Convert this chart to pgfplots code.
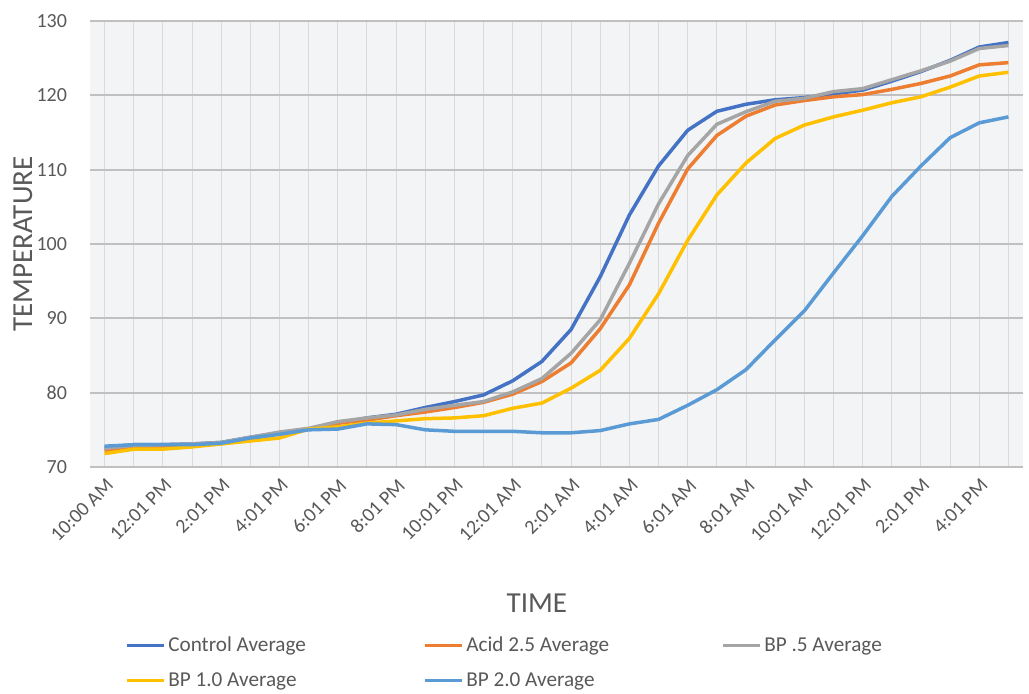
\documentclass[border=0pt]{standalone}
\usepackage{pgfplots}
\pgfplotsset{compat=1.18}
\usepackage{fontspec}
\setmainfont{Carlito}
\definecolor{cCtrl}{HTML}{4472C4}
\definecolor{cAcid}{HTML}{ED7D31}
\definecolor{cBPa}{HTML}{A5A5A5}
\definecolor{cBPb}{HTML}{FFC000}
\definecolor{cBPc}{HTML}{5B9BD5}
\definecolor{txt}{HTML}{595959}
\definecolor{bgc}{HTML}{F3F4F6}
\definecolor{hgrid}{HTML}{C0C0C0}
\definecolor{vgrid}{HTML}{DADADA}
\pgfplotstableread{
i ctrl acid bpa bpb bpc
0 72.6 72.2 72.5 71.8 72.8
1 73.0 72.7 72.9 72.4 73.0
2 73.0 72.8 73.0 72.4 73.0
3 73.1 73.0 73.1 72.7 73.0
4 73.3 73.2 73.3 73.1 73.2
5 74.0 73.8 74.0 73.5 73.9
6 74.6 74.5 74.7 73.9 74.4
7 75.1 75.1 75.2 75.1 75.0
8 75.9 75.9 76.1 75.4 75.1
9 76.6 76.3 76.6 75.9 75.8
10 77.1 76.9 77.0 76.2 75.7
11 78.0 77.4 77.75 76.5 75.0
12 78.8 78.0 78.3 76.6 74.8
13 79.7 78.7 78.8 76.9 74.8
14 81.6 79.8 80.1 77.9 74.8
15 84.2 81.5 81.9 78.6 74.6
16 88.5 84.0 85.3 80.6 74.6
17 95.6 88.6 89.8 83.0 74.9
18 103.9 94.5 97.4 87.3 75.8
19 110.5 102.8 105.4 93.3 76.4
20 115.3 110.1 111.9 100.5 78.3
21 117.85 114.6 116.1 106.6 80.4
22 118.8 117.2 117.8 110.9 83.1
23 119.4 118.7 119.2 114.2 87.1
24 119.7 119.3 119.6 116.0 91.0
25 120.2 119.8 120.5 117.1 96.1
26 120.7 120.1 120.9 118.0 101.1
27 121.9 120.8 122.1 119.0 106.4
28 123.2 121.6 123.3 119.8 110.5
29 124.7 122.6 124.6 121.1 114.3
30 126.5 124.1 126.3 122.6 116.3
31 127.1 124.4 126.7 123.1 117.1
}\datatable
\begin{document}
\begin{tikzpicture}
\useasboundingbox (0,0) rectangle (514.5pt,347pt);
\begin{axis}[
  at={(45pt,113.5pt)}, anchor=south west,
  scale only axis, width=466.5pt, height=223pt,
  xmin=-0.5, xmax=31.5, ymin=70, ymax=130,
  ytick={70,80,...,130},
  xtick={0,2,...,30},
  minor xtick={1,3,...,31},
  xticklabels={10:00 AM,12:01 PM,2:01 PM,4:01 PM,6:01 PM,8:01 PM,10:01 PM,12:01 AM,2:01 AM,4:01 AM,6:01 AM,8:01 AM,10:01 AM,12:01 PM,2:01 PM,4:01 PM},
  xmajorgrids, xminorgrids, ymajorgrids,
  x grid style={draw=vgrid, line width=0.5pt},
  minor x grid style={draw=vgrid, line width=0.5pt},
  y grid style={draw=hgrid, line width=1pt},
  axis line style={draw=none},
  major tick length=0pt, minor tick length=0pt,
  axis background/.style={fill=bgc},
  tick label style={font=\fontsize{10}{12}\selectfont, text=txt},
  /pgf/number format/assume math mode=true,
  yticklabel style={xshift=-8pt},
  xticklabel style={rotate=45, anchor=east, yshift=-7.25pt},
  xlabel={TIME}, ylabel={TEMPERATURE},
  every axis x label/.style={at={(axis description cs:0.479,-0.305)}, anchor=center, font=\fontsize{14.5}{17}\selectfont, text=txt},
  every axis y label/.style={at={(axis description cs:-0.0718,0.5)}, rotate=90, anchor=center, font=\fontsize{14.5}{17}\selectfont, text=txt},
  legend columns=3,
  legend cell align=left,
  legend image code/.code={\draw[#1, line width=1.5pt] (0pt,0pt) -- (18.5pt,0pt);},
  legend style={draw=none, fill=none, font=\fontsize{10.6}{12.5}\selectfont, text=txt,
    at={(axis description cs:0.031,-0.3645)}, anchor=north west,
    row sep=5.8pt, column sep=0pt,
    nodes={inner sep=1.5pt}},
  line join=round,
]
\addplot[cCtrl, line width=1.75pt] table[x=i, y=ctrl]{\datatable};
\addlegendentry{\makebox[126pt][l]{Control Average}}
\addplot[cAcid, line width=1.75pt] table[x=i, y=acid]{\datatable};
\addlegendentry{\makebox[126pt][l]{Acid 2.5 Average}}
\addplot[cBPa, line width=1.75pt] table[x=i, y=bpa]{\datatable};
\addlegendentry{\makebox[126pt][l]{BP .5 Average}}
\addplot[cBPb, line width=1.75pt] table[x=i, y=bpb]{\datatable};
\addlegendentry{\makebox[126pt][l]{BP 1.0 Average}}
\addplot[cBPc, line width=1.75pt] table[x=i, y=bpc]{\datatable};
\addlegendentry{\makebox[126pt][l]{BP 2.0 Average}}
\end{axis}
\end{tikzpicture}
\end{document}
